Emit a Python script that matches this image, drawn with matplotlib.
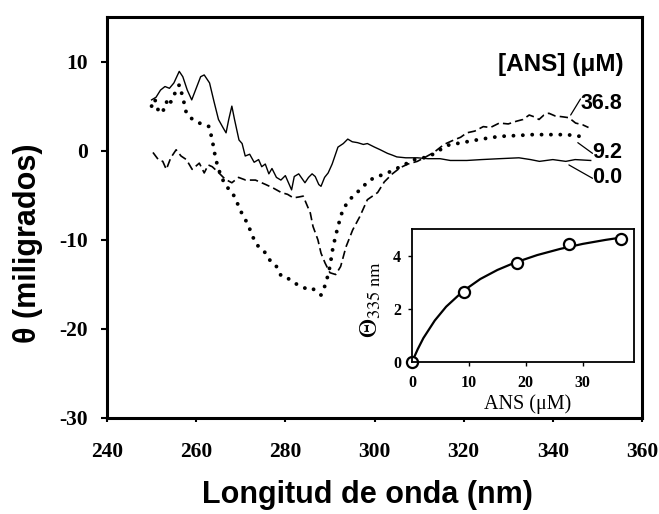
import matplotlib
matplotlib.use("Agg")
import matplotlib.pyplot as plt

plt.rcParams['mathtext.fontset'] = 'stix'

# CD spectra, [ANS] = 0.0 uM (solid)
wl_0 = [250, 251, 252, 253, 254, 255, 256.2, 257, 258, 259, 260, 261, 261.8, 263, 264,
        265, 266, 266.7, 267.3, 268, 268.6, 269.6, 270.3, 271, 272, 273, 274, 274.7,
        275.5, 276.3, 277, 278, 279, 280, 281.4, 282, 283, 284.4, 285.2, 286, 286.7,
        287.5, 288, 288.8, 289.6, 290.5, 291.8, 293, 294, 295, 296.2, 297.5, 298.4,
        300, 301.3, 302.9, 304, 305, 307, 309.6, 312, 314.7, 317, 320.7, 324, 328,
        332.4, 335, 337, 340, 342.9, 345, 348.5]
th_0 = [5.7, 6.0, 6.8, 7.2, 7.0, 7.6, 8.9, 8.3, 6.8, 5.7, 7.0, 8.3, 8.5, 7.6, 5.5,
        3.5, 2.6, 2.0, 3.5, 5.0, 3.5, 1.2, 0.8, -0.6, -0.4, -1.3, -1.0, -1.8,
        -1.5, -2.6, -2.0, -3.0, -3.3, -2.8, -4.4, -2.9, -2.6, -3.6, -3.0, -2.6, -2.9,
        -3.8, -4.0, -3.0, -2.5, -1.5, 0.4, 0.8, 1.3, 1.0, 0.9, 0.7, 0.8,
        0.4, 0.1, -0.3, -0.5, -0.7, -0.8, -0.8, -0.9, -0.9, -1.1, -1.1, -1.0, -0.9,
        -0.8, -1.0, -1.2, -1.0, -1.2, -1.0, -1.1]

# [ANS] = 9.2 uM (dotted)
wl_9 = [250, 250.7, 251.5, 252.4, 253.3, 254, 254.7, 255.5, 256.2, 257, 257.8, 259,
        260.7, 262, 262.9, 263.6, 264.4, 265.5, 266.7, 268, 268.9, 270, 271.1, 272.2,
        273.3, 274.5, 275.6, 276.9, 278, 279.1, 280.5, 282.2, 283.5, 285.1, 286.2,
        287.3, 288, 289.1, 290, 290.7, 291.8, 292.9, 294.4, 296.7, 298.9, 300.7,
        302.9, 305.8, 308.9, 311, 312.5, 314, 316.9, 318.5, 320.7, 324, 328, 332,
        335.5, 339, 342.9, 345, 347.3]
th_9 = [5.0, 5.8, 4.5, 4.2, 5.5, 5.0, 6.1, 6.6, 7.4, 6.0, 4.2, 3.6,
        3.1, 2.9, 2.7, 1.2, -1.0, -2.8, -4.0, -4.6, -5.5, -6.8, -7.8, -9.0,
        -10.4, -11.0, -11.5, -12.6, -13.0, -14.1, -14.3, -14.9, -15.2, -15.6, -15.5,
        -16.0, -16.2, -14.9, -13.0, -10.8, -8.5, -6.6, -5.5, -4.4, -3.3, -2.9,
        -2.5, -1.8, -1.0, -0.8, -0.6, -0.1, 0.7, 0.8, 1.0, 1.3, 1.6, 1.7,
        1.8, 1.8, 1.8, 1.7, 1.5]

# [ANS] = 36.8 uM (dashed)
wl_36 = [250.3, 251.5, 252.5, 253.3, 254.3, 255.5, 256.6, 257.8, 259.1, 260.7, 261.8,
         262.7, 263.6, 265.1, 266.5, 268, 269.5, 271.1, 273.3, 275.6, 277.3, 279.1,
         280.5, 281.8, 283, 284, 285.6, 286.2, 287.3, 288, 288.9, 290, 291.3, 292.4,
         293.6, 295.1, 296.7, 298.4, 300.7, 302.2, 304, 305.8, 307.5, 309.6, 311.5,
         313.3, 315.6, 317.8, 319.3, 320.7, 322.5, 324.4, 326, 328, 330, 331.8, 333.3,
         334.7, 335.8, 336.9, 338, 339.1, 340.5, 342.2, 343.6, 345.1, 346.7, 348]
th_36 = [-0.2, -1.0, -1.2, -2.1, -0.8, 0.1, -0.6, -1.0, -2.1, -1.4, -2.5,
         -1.6, -1.8, -2.5, -3.2, -3.6, -3.0, -3.3, -3.3, -3.8, -4.2, -4.7,
         -4.9, -5.3, -5.2, -5.1, -7.0, -8.5, -10.0, -11.5, -12.6, -13.7, -13.9, -13.0,
         -10.8, -8.9, -7.4, -5.5, -4.7, -3.5, -2.6, -1.9, -1.5, -1.2, -0.7,
         -0.2, 0.7, 1.2, 1.5, 2.0, 2.2, 2.7, 2.6, 3.1, 3.0, 3.3, 3.5,
         4.0, 3.8, 3.5, 4.0, 4.2, 3.9, 3.8, 3.7, 3.1, 2.9, 2.6]

conc_labels = ['36.8', '9.2', '0.0']
x_ticks = [240, 260, 280, 300, 320, 340, 360]
y_ticks = [-30, -20, -10, 0, 10]

# inset: ellipticity at 335 nm vs [ANS]
ans_conc = [0, 9.2, 18.4, 27.6, 36.8]
theta_335 = [0.0, 2.64, 3.74, 4.42, 4.64]
fit_x = [0, 1, 2, 4, 6, 9, 12, 15, 18, 22, 26, 30, 34, 36.8]
fit_y = [0.0, 0.48, 0.90, 1.56, 2.08, 2.67, 3.12, 3.46, 3.73, 4.02, 4.25, 4.44, 4.59, 4.68]

fig = plt.figure(figsize=(6.59, 5.14), dpi=100)
ax = fig.add_axes([0.1624, 0.1868, 0.8118, 0.7801])

ax.plot(wl_0, th_0, color='black', lw=1.0)
ax.plot(wl_9, th_9, color='black', lw=2.8, linestyle=(0, (0.01, 2.4)),
        dash_capstyle='round')
ax.plot(wl_36, th_36, color='black', lw=1.2, linestyle=(0, (5, 2.5)))

ax.set_xlim(240, 359)
ax.set_ylim(-30, 15)
ax.set_xticks(x_ticks)
ax.set_yticks(y_ticks)
tick_font = {'family': 'Liberation Serif', 'weight': 'bold', 'size': 15.5}
ax.set_xticklabels([str(t) for t in x_ticks], fontdict=tick_font)
ax.set_yticklabels([str(t) for t in y_ticks], fontdict=tick_font)
ax.tick_params(axis='x', direction='out', length=3, width=1.5, pad=14)
ax.tick_params(axis='y', direction='out', length=4, width=1.5, pad=10)
for sp in ax.spines.values():
    sp.set_linewidth(2.2)

# legend text and leader lines
ax.text(355.8, 9.66, '[ANS] (\u03bcM)', ha='right', va='center',
        fontsize=17.5, fontweight='bold', family='Liberation Sans')
lab_pos = [(346.2, 5.3), (348.9, -0.2), (348.9, -3.0)]
lead_from = [(344.0, 4.0), (345.6, 0.9), (343.6, -1.6)]
for lab, (tx, ty), (fx, fy) in zip(conc_labels, lab_pos, lead_from):
    ax.text(tx, ty, lab, ha='left', va='center', fontsize=15.5,
            fontweight='bold', family='Liberation Sans')
    ax.annotate('', xy=(fx, fy), xytext=(tx, ty + (0.5 if ty > 0 else -0.1)),
                arrowprops=dict(arrowstyle='-', color='black', lw=0.9,
                                shrinkA=0, shrinkB=0))

fig.text(28 / 659, 1 - 243 / 514, '\u03b8 (miligrados)', rotation=90,
         ha='center', va='center', fontsize=22, fontweight='bold',
         family='Liberation Sans')
fig.text(367 / 659, 1 - 495 / 514, 'Longitud de onda (nm)', ha='center',
         va='center', fontsize=22, fontweight='bold', family='Liberation Sans')

# inset
ax_in = fig.add_axes([0.6252, 0.2957, 0.3369, 0.2588])
ax_in.plot(fit_x, fit_y, color='black', lw=1.6, clip_on=False)
ax_in.plot(ans_conc, theta_335, 'o', mfc='white', mec='black', mew=1.6,
           ms=8, clip_on=False)
ax_in.set_xlim(0, 39)
ax_in.set_ylim(0, 5)
ax_in.set_xticks([0, 10, 20, 30])
ax_in.set_yticks([0, 2, 4])
in_font = {'family': 'Liberation Serif', 'weight': 'bold', 'size': 11.5}
ax_in.set_xticklabels(['0', '10', '20', '30'], fontdict=in_font)
ax_in.set_yticklabels(['0', '2', '4'], fontdict=in_font)
ax_in.tick_params(direction='out', length=3, width=1.0)
ax_in.tick_params(axis='x', pad=6)
ax_in.tick_params(axis='y', pad=5)
for sp in ax_in.spines.values():
    sp.set_linewidth(1.3)
ax_in.set_xlabel('ANS (\u03bcM)', family='Liberation Serif', fontsize=14.5)
ax_in.xaxis.set_label_coords(0.52, -0.24)
ax_in.set_ylabel(r'$\Theta_{335\ \mathrm{nm}}$', fontsize=19)
ax_in.yaxis.set_label_coords(-0.13, 0.47)

fig.savefig('out.png', dpi=100)
